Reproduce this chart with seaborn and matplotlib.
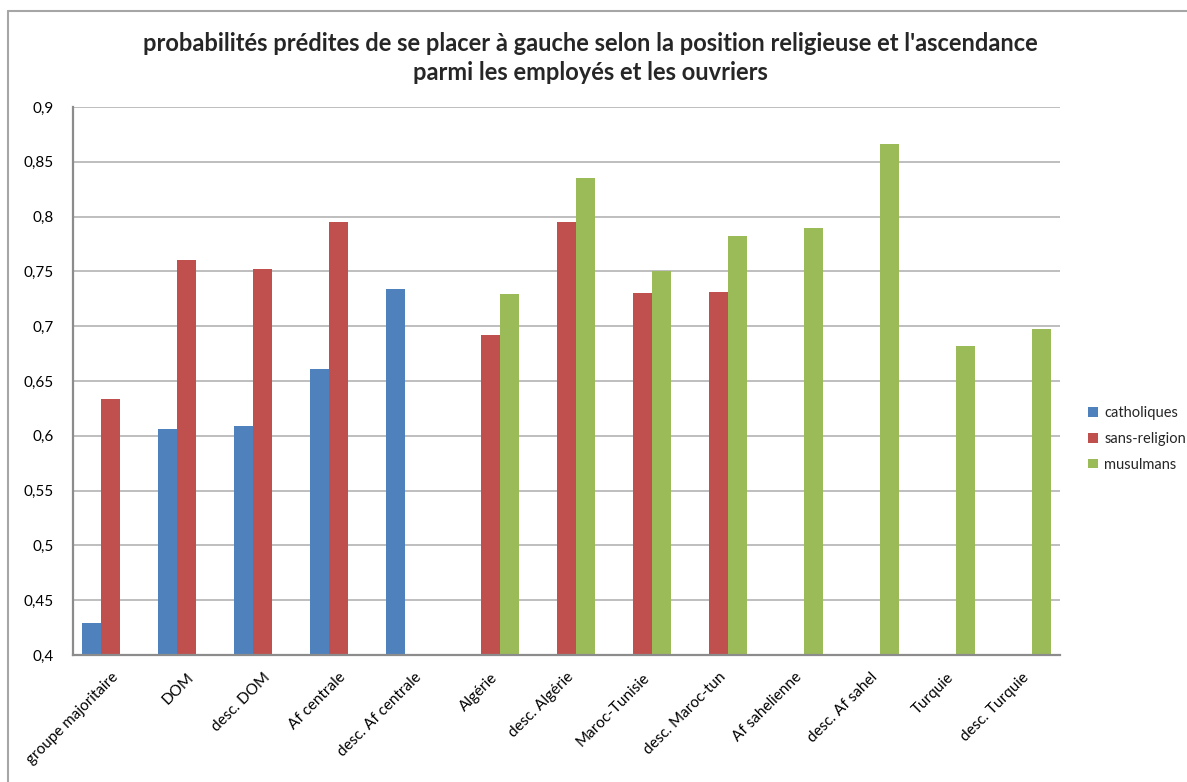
import pandas as pd
import numpy as np
import matplotlib
matplotlib.use('Agg')
import matplotlib.pyplot as plt
import seaborn as sns
from matplotlib.ticker import FuncFormatter, MultipleLocator
from matplotlib.lines import Line2D

# Values (NaN = no bar)
categories = ['groupe majoritaire', 'DOM', 'desc. DOM', 'Af centrale', 'desc. Af centrale',
              'Algérie', 'desc. Algérie', 'Maroc-Tunisie', 'desc. Maroc-tun',
              'Af sahelienne', 'desc. Af sahel', 'Turquie', 'desc. Turquie']
catholiques = [0.429, 0.606, 0.609, 0.661, 0.734, np.nan, np.nan, np.nan, np.nan,
               np.nan, np.nan, np.nan, np.nan]
sans_religion = [0.634, 0.760, 0.752, 0.795, np.nan, 0.692, 0.795, 0.730, 0.731,
                 np.nan, np.nan, np.nan, np.nan]
musulmans = [np.nan, np.nan, np.nan, np.nan, np.nan, 0.729, 0.835, 0.750, 0.782,
             0.790, 0.866, 0.682, 0.697]
series = ['catholiques', 'sans-religion', 'musulmans']
colors = ['#4F81BD', '#C0504D', '#9BBB59']

title = ("probabilités prédites de se placer à gauche selon la position religieuse et l'ascendance\n"
         "parmi les employés et les ouvriers")

# long format table for seaborn
df = pd.DataFrame({
    'ascendance': categories * 3,
    'religion': [s for s in series for _ in categories],
    'proba': catholiques + sans_religion + musulmans,
})

sns.set_style('white')
plt.rcParams['font.family'] = ['Lato', 'DejaVu Sans']

fig = plt.figure(figsize=(11.87, 7.82), dpi=100)
ax = fig.add_axes([73 / 1187, 1 - 655 / 782, (1060 - 73) / 1187, (655 - 107) / 782])

sns.barplot(data=df, x='ascendance', y='proba', hue='religion', order=categories,
            hue_order=series, palette=colors, saturation=1, width=0.75,
            errorbar=None, ax=ax, zorder=2, linewidth=0)

ax.set_ylim(0.4, 0.9)
ax.yaxis.set_major_locator(MultipleLocator(0.05))
ax.yaxis.set_major_formatter(FuncFormatter(lambda v, p: ('%g' % round(v, 2)).replace('.', ',')))
ax.set_xlabel('')
ax.set_ylabel('')
ax.grid(axis='y', color='#B3B3B3', linewidth=1.2, zorder=0)
ax.set_axisbelow(True)
for s in ['top', 'right']:
    ax.spines[s].set_visible(False)
for s in ['left', 'bottom']:
    ax.spines[s].set_color('#8C8C8C')
    ax.spines[s].set_linewidth(1.6)
ax.tick_params(axis='both', length=0, labelsize=11, colors='black')
ax.tick_params(axis='y', pad=14)
ax.tick_params(axis='x', pad=11)
plt.setp(ax.get_xticklabels(), rotation=45, ha='right', rotation_mode='anchor')

ax.legend(loc='center left', bbox_to_anchor=(1078 / 1187, 1 - 439 / 782),
          bbox_transform=fig.transFigure, frameon=False, fontsize=10.5,
          handlelength=0.65, handleheight=0.65, handletextpad=0.45, labelspacing=0.8,
          borderpad=0.2)

fig.text(0.497, 1 - 58 / 782, title, ha='center', va='center', fontsize=17,
         fontweight='bold', linespacing=1.35)

# chart area border (only top and left visible in the crop)
fig.add_artist(Line2D([8 / 1187, 1.0], [1 - 11 / 782, 1 - 11 / 782], color='#A6A6A6', lw=1.5))
fig.add_artist(Line2D([8 / 1187, 8 / 1187], [0.0, 1 - 11 / 782], color='#A6A6A6', lw=1.5))

fig.savefig('out.png', dpi=100)
